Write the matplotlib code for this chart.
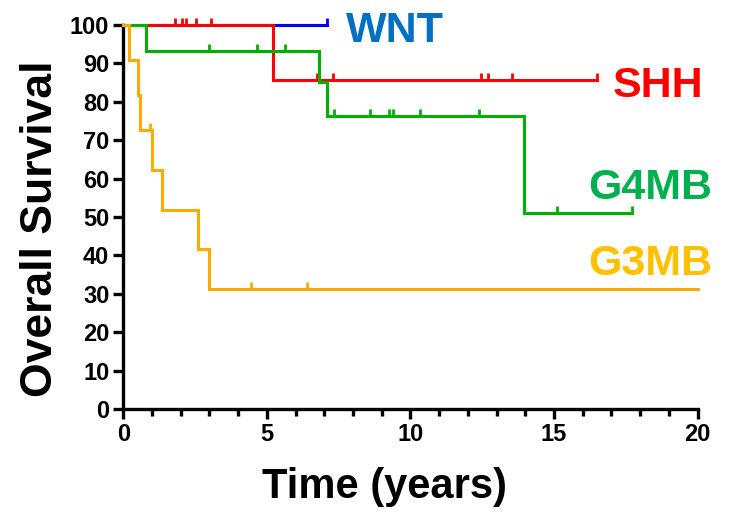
import matplotlib.pyplot as plt

plt.rcParams['font.family'] = ['Liberation Sans', 'DejaVu Sans']
plt.rcParams['font.weight'] = 'bold'

# кривые выживаемости: время (годы) и доля выживших (%)
wnt_t = [0, 7.1]
wnt_s = [100, 100]
wnt_cens_t = [7.1]
wnt_cens_s = [100]

shh_t = [0, 5.2, 16.5]
shh_s = [100, 85.7, 85.7]
shh_cens_t = [1.8, 2.05, 2.2, 2.55, 3.05, 6.75, 7.3, 12.45, 12.7, 13.55, 16.5]
shh_cens_s = [100, 100, 100, 100, 100, 85.7, 85.7, 85.7, 85.7, 85.7, 85.7]

g4_t = [0, 0.8, 6.8, 7.1, 13.95, 17.7]
g4_s = [100, 93.3, 85.0, 76.3, 51.0, 51.0]
g4_cens_t = [3.0, 4.65, 5.65, 7.35, 8.6, 9.25, 9.4, 10.35, 12.4, 15.1, 17.7]
g4_cens_s = [93.3, 93.3, 93.3, 76.3, 76.3, 76.3, 76.3, 76.3, 76.3, 51.0, 51.0]

g3_t = [0, 0.2, 0.5, 0.6, 1.0, 1.35, 2.6, 3.0, 20.0]
g3_s = [100, 90.9, 81.8, 72.7, 62.3, 51.9, 41.6, 31.2, 31.2]
g3_cens_t = [0.95, 4.45, 6.4]
g3_cens_s = [72.7, 31.2, 31.2]

groups = ["WNT", "SHH", "G4MB", "G3MB"]
line_colors = ["#0000FF", "#FF0000", "#00B000", "#FFAA00"]
text_colors = ["#0070C0", "#FF0000", "#00B050", "#FFC000"]
label_pos = [(7.75, 95.6), (17.05, 81.3), (16.2, 54.6), (16.2, 35.0)]

curves = [(wnt_t, wnt_s, wnt_cens_t, wnt_cens_s),
          (shh_t, shh_s, shh_cens_t, shh_cens_s),
          (g4_t, g4_s, g4_cens_t, g4_cens_s),
          (g3_t, g3_s, g3_cens_t, g3_cens_s)]

fig = plt.figure(figsize=(7.29, 5.16), dpi=100)
ax = fig.add_axes([0.169, 0.207, 0.788, 0.745])

# метка цензурирования - вертикальная черточка вверх от линии
tick_marker = [(0, 0), (0, 1)]

# рисуем в обратном порядке, чтобы WNT был сверху
for i in reversed(range(len(groups))):
    t, s, ct, cs = curves[i]
    ax.step(t, s, where="post", color=line_colors[i], lw=2.2,
            solid_joinstyle="miter", clip_on=False, zorder=3 + i * 0.01)
    ax.plot(ct, cs, linestyle="none", marker=tick_marker, markersize=10,
            markeredgewidth=2.0, color=line_colors[i], clip_on=False,
            zorder=3 + i * 0.01)
for i, name in enumerate(groups):
    ax.text(label_pos[i][0], label_pos[i][1], name, color=text_colors[i],
            fontsize=31, fontweight="bold", ha="left", va="baseline")

ax.set_xlim(0, 20)
ax.set_ylim(0, 100)
ax.set_xticks([0, 5, 10, 15, 20])
ax.set_xticks(range(0, 21), minor=True)
ax.set_yticks(range(0, 101, 10))
for side in ["top", "right"]:
    ax.spines[side].set_visible(False)
for side in ["left", "bottom"]:
    ax.spines[side].set_linewidth(2.4)
ax.tick_params(which="major", direction="out", length=7, width=2.4,
               labelsize=17, pad=3)
ax.tick_params(which="minor", direction="out", length=5, width=2.4)
for lab in ax.get_xticklabels() + ax.get_yticklabels():
    lab.set_fontweight("bold")

ax.set_xlabel("Time (years)", fontsize=30, fontweight="bold")
ax.set_ylabel("Overall Survival", fontsize=32, fontweight="bold")
ax.xaxis.set_label_coords(0.454, -0.15)
ax.yaxis.set_label_coords(-0.108, 0.469)

fig.savefig("out.png", dpi=100)
